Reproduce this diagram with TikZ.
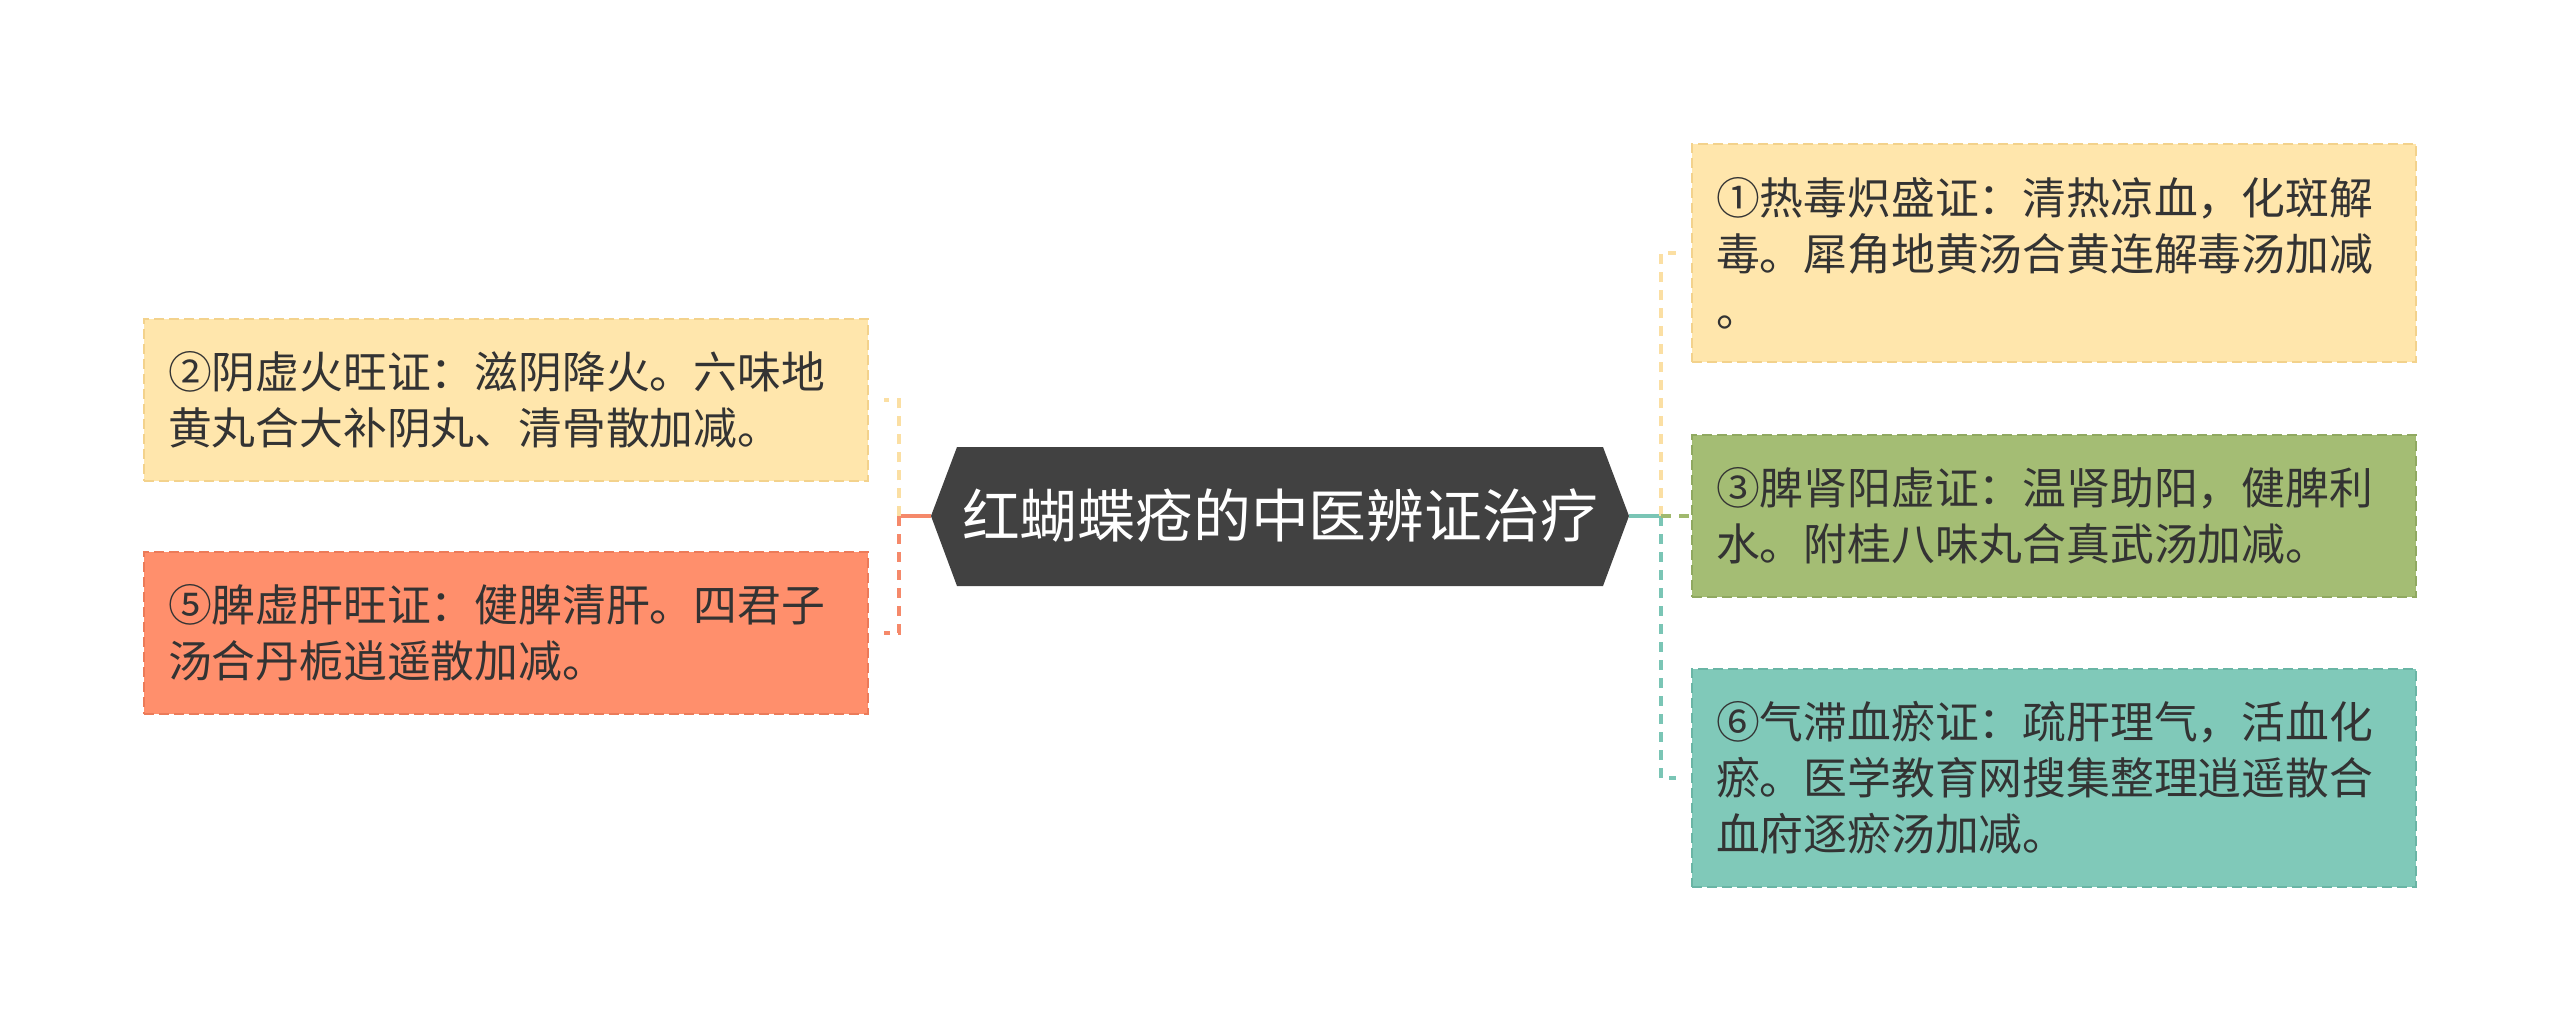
\documentclass[tikz,border=0pt]{standalone}
\usepackage{fontspec}
\setmainfont{Noto Sans CJK SC}
\usetikzlibrary{calc}
\definecolor{cyel}{HTML}{FFE6AC}
\definecolor{cyelD}{HTML}{F3D28C}
\definecolor{cora}{HTML}{FF8F6C}
\definecolor{coraD}{HTML}{EC7B59}
\definecolor{cgrn}{HTML}{A4BD74}
\definecolor{cgrnD}{HTML}{90A961}
\definecolor{ctea}{HTML}{80C9B9}
\definecolor{cteaD}{HTML}{6AB5A5}
\definecolor{chex}{HTML}{414141}
\definecolor{ctxt}{HTML}{333333}
\definecolor{lyel}{HTML}{FBDFA3}
\definecolor{lora}{HTML}{F5896A}
\definecolor{ltea}{HTML}{7AC5B5}
\definecolor{lgrn}{HTML}{A0B96E}
\begin{document}
\begin{tikzpicture}[x=0.5pt,y=-0.5pt,
  leaf/.style={rectangle, minimum width=362pt, text width=338pt, inner xsep=12pt, inner ysep=0pt,
    align=left, font=\fontsize{21.9pt}{28pt}\selectfont, text=ctxt,
    dash pattern=on 5pt off 2.5pt, line width=1pt},
  twoline/.style={minimum height=81pt},
  threeline/.style={minimum height=109pt},
  conndash/.style={line width=2pt, dash pattern=on 5pt off 4pt},
  connsolid/.style={line width=2pt}]
\useasboundingbox (0,0) rectangle (2560,1033);
\fill[white] (0,0) rectangle (2560,1033);

% central hexagon
\fill[chex] (931,516) -- (957,447) -- (1603,447) -- (1629,516) -- (1603,586) -- (957,586) -- cycle;
\node[font=\fontsize{28.9pt}{34pt}\selectfont, text=white, minimum width=349pt, minimum height=69.5pt, inner sep=0pt] (hex) at (1280,516) {红蝴蝶疮的中医辨证治疗};

% leaves
\node[leaf, twoline, fill=cyel, draw=cyelD] (b2) at (506,400) {②阴虚火旺证：滋阴降火。六味地\\黄丸合大补阴丸、清骨散加减。};
\node[leaf, twoline, fill=cora, draw=coraD] (b5) at (506,633) {⑤脾虚肝旺证：健脾清肝。四君子\\汤合丹栀逍遥散加减。};
\node[leaf, threeline, fill=cyel, draw=cyelD] (b1) at (2054,253) {①热毒炽盛证：清热凉血，化斑解\\毒。犀角地黄汤合黄连解毒汤加减\\。};
\node[leaf, twoline, fill=cgrn, draw=cgrnD] (b3) at (2054,516) {③脾肾阳虚证：温肾助阳，健脾利\\水。附桂八味丸合真武汤加减。};
\node[leaf, threeline, fill=ctea, draw=cteaD] (b6) at (2054,778) {⑥气滞血瘀证：疏肝理气，活血化\\瘀。医学教育网搜集整理逍遥散合\\血府逐瘀汤加减。};

% connectors left
\draw[connsolid, lora] (hex.west) -- ++(-32,0) coordinate (jl);
\draw[conndash, lyel] (jl) |- ($(b2.east)+(15,0)$);
\draw[conndash, lora] (jl) |- ($(b5.east)+(15,0)$);
% connectors right
\draw[connsolid, ltea] (hex.east) -- ++(32,0) coordinate (jr);
\draw[conndash, lyel] (jr) |- ($(b1.west)+(-15,0)$);
\draw[conndash, ltea] (jr) |- ($(b6.west)+(-15,0)$);
\draw[conndash, lgrn] (jr) -- (b3.west);
\end{tikzpicture}
\end{document}
